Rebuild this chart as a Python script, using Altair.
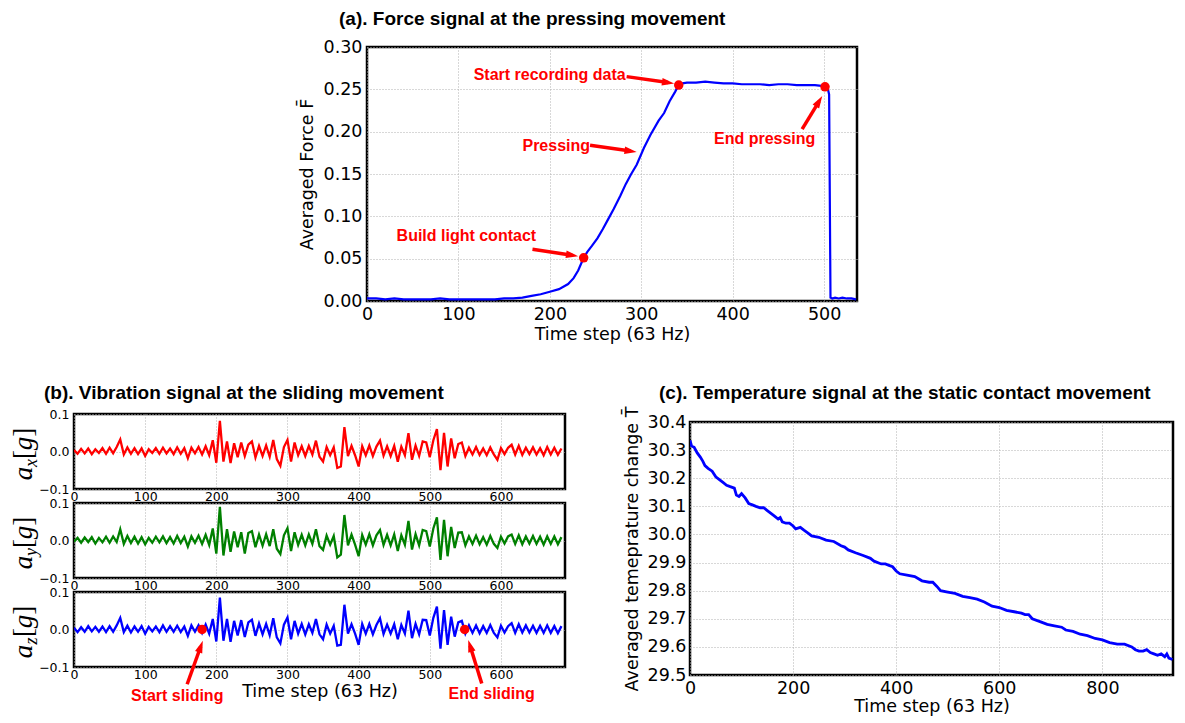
import math
import altair as alt
import pandas as pd

# ---------------- (a) force signal ----------------
force_t = [0, 10, 20, 30, 40, 50, 60, 70, 80, 90, 100, 110, 120, 130, 140, 150, 160, 170, 180, 190, 200, 210, 220,
           226, 231, 237, 241, 246, 252, 258, 264, 270, 277, 283, 289, 295,
           303, 310, 319, 325, 331, 337, 341, 345, 350,
           360, 370, 380, 390, 400, 410, 420, 430, 440, 450, 460, 470, 480, 490,
           497, 501, 504, 505.5, 507, 509, 512, 516, 520, 525, 530, 535]
force_v = [0.003, 0.003, 0.002, 0.003, 0.002, 0.002, 0.002, 0.002, 0.003, 0.002, 0.002, 0.002, 0.002, 0.002, 0.002, 0.003, 0.003, 0.004, 0.006, 0.008, 0.011, 0.014, 0.020,
           0.027, 0.036, 0.051, 0.058, 0.065, 0.074, 0.085, 0.097, 0.109, 0.124, 0.138, 0.150, 0.161,
           0.181, 0.196, 0.213, 0.222, 0.236, 0.247, 0.255, 0.257, 0.258,
           0.258, 0.259, 0.258, 0.257, 0.257, 0.256, 0.256, 0.256, 0.255, 0.256, 0.256, 0.255, 0.255, 0.255,
           0.254, 0.253, 0.251, 0.244, 0.004, 0.003, 0.004, 0.003, 0.004, 0.003, 0.003, 0.002]
force_dot_t = [237, 341, 501]
force_dot_v = [0.051, 0.255, 0.253]
force_lab_right = ["Build light contact", "Pressing", "Start recording data"]
force_lab_right_t = [185, 244, 283]
force_lab_right_v = [0.077, 0.183, 0.267]
force_lab_center = ["End pressing"]
force_lab_center_t = [435]
force_lab_center_v = [0.191]
force_arrow_t1 = [181, 244, 284, 476]
force_arrow_v1 = [0.061, 0.184, 0.265, 0.203]
force_arrow_t2 = [231, 295, 336, 498]
force_arrow_v2 = [0.053, 0.176, 0.257, 0.242]

# ---------------- (b) vibration signals (every 5 time steps) ----------------
vib_t = list(range(0, 690, 5))
vib_ax = [0.004, -0.006, 0.007, -0.005, 0.008, -0.007, 0.006, -0.004, 0.009, -0.006,
          0.010, -0.005, 0.012, 0.032, -0.008, 0.011, -0.006, 0.009, -0.007, 0.008,
          -0.012, 0.006, -0.004, 0.009, -0.006, 0.010, -0.005, 0.008, -0.007, 0.011,
          -0.006, 0.009, -0.018, 0.010, -0.005, 0.012, -0.008, 0.014, -0.010, 0.030,
          -0.030, 0.082, -0.027, 0.027, -0.031, 0.022, -0.015, 0.024, -0.012, 0.018,
          0.027, -0.016, 0.015, -0.012, 0.016, -0.014, 0.031, -0.020, -0.038, 0.012,
          0.031, -0.027, 0.024, -0.010, 0.014, -0.012, 0.015, -0.008, 0.029, -0.014,
          -0.027, 0.012, -0.010, 0.011, -0.044, -0.040, 0.065, -0.012, 0.015, -0.010,
          -0.040, 0.014, -0.010, 0.016, -0.012, 0.013, 0.029, -0.011, 0.014, -0.012,
          0.015, -0.027, 0.013, -0.010, 0.049, -0.022, 0.016, -0.012, 0.027, 0.024,
          -0.015, 0.030, 0.060, -0.050, 0.050, -0.040, 0.035, -0.018, 0.020, 0.024,
          -0.012, 0.010, -0.008, 0.012, -0.009, 0.008, -0.010, 0.011, -0.008, -0.022,
          0.009, -0.007, 0.010, 0.018, -0.008, 0.015, -0.009, 0.010, -0.007, 0.011,
          -0.008, 0.009, -0.010, 0.012, -0.008, 0.010, -0.009, 0.008]
vib_ay = [-0.003, 0.007, -0.006, 0.008, -0.004, 0.009, -0.008, 0.007, -0.005, 0.010,
          -0.006, 0.011, -0.004, 0.030, -0.009, 0.012, -0.007, 0.010, -0.008, 0.009,
          -0.010, 0.007, -0.006, 0.010, -0.005, 0.011, -0.007, 0.009, -0.008, 0.012,
          -0.007, 0.010, -0.016, 0.011, -0.006, 0.013, -0.009, 0.015, -0.012, 0.032,
          -0.035, 0.090, -0.040, 0.030, -0.030, 0.024, -0.018, 0.022, -0.035, 0.020,
          0.025, -0.018, 0.016, -0.014, 0.017, -0.015, 0.030, -0.022, -0.036, 0.014,
          0.033, -0.028, 0.022, -0.012, 0.015, -0.013, 0.016, -0.009, 0.030, -0.015,
          -0.025, 0.013, -0.011, 0.012, -0.045, -0.038, 0.068, -0.013, 0.016, -0.011,
          -0.042, 0.015, -0.011, 0.017, -0.013, 0.014, 0.028, -0.012, 0.015, -0.013,
          0.016, -0.028, 0.014, -0.011, 0.052, -0.024, 0.017, -0.013, 0.028, 0.025,
          -0.016, 0.032, 0.062, -0.052, 0.055, -0.042, 0.036, -0.020, 0.021, 0.022,
          -0.013, 0.011, -0.009, 0.013, -0.010, 0.009, -0.011, 0.012, -0.009, -0.020,
          0.010, -0.008, 0.011, 0.016, -0.009, 0.014, -0.010, 0.011, -0.008, 0.012,
          -0.009, 0.010, -0.011, 0.011, -0.009, 0.011, -0.010, 0.009]
vib_az = [0.005, -0.007, 0.006, -0.006, 0.009, -0.005, 0.007, -0.006, 0.008, -0.007,
          0.009, -0.006, 0.011, 0.031, -0.007, 0.010, -0.008, 0.008, -0.006, 0.009,
          -0.011, 0.007, -0.005, 0.008, -0.007, 0.011, -0.006, 0.009, -0.006, 0.010,
          -0.007, 0.008, -0.017, 0.011, -0.006, 0.011, -0.009, 0.013, -0.011, 0.028,
          -0.032, 0.085, -0.030, 0.028, -0.033, 0.023, -0.016, 0.025, -0.020, 0.019,
          0.026, -0.017, 0.016, -0.013, 0.015, -0.015, 0.030, -0.021, -0.037, 0.013,
          0.032, -0.026, 0.023, -0.011, 0.015, -0.013, 0.014, -0.009, 0.028, -0.013,
          -0.026, 0.013, -0.011, 0.010, -0.043, -0.041, 0.066, -0.011, 0.014, -0.011,
          -0.041, 0.015, -0.011, 0.015, -0.013, 0.012, 0.030, -0.012, 0.013, -0.011,
          0.014, -0.026, 0.012, -0.011, 0.050, -0.023, 0.015, -0.013, 0.026, 0.025,
          -0.016, 0.031, 0.061, -0.051, 0.052, -0.041, 0.034, -0.019, 0.019, 0.023,
          -0.011, 0.011, -0.009, 0.011, -0.010, 0.009, -0.009, 0.012, -0.009, -0.021,
          0.010, -0.008, 0.009, 0.017, -0.009, 0.014, -0.008, 0.011, -0.008, 0.010,
          -0.009, 0.010, -0.009, 0.011, -0.009, 0.009, -0.010, 0.009]
slide_dot_t = [180, 549]
slide_dot_v = [0.0, 0.0]
slide_lab = ["Start sliding", "End sliding"]
slide_lab_t = [145, 587]
slide_lab_v = [-0.176, -0.172]
slide_arrow_t1 = [159, 573]
slide_arrow_v1 = [-0.146, -0.144]
slide_arrow_t2 = [181, 554]
slide_arrow_v2 = [-0.030, -0.028]

# ---------------- (c) temperature signal ----------------
temp_t = [0, 3, 8, 14, 20, 25, 29, 35, 43, 50, 57, 64, 71, 78, 86, 90, 95, 100, 107, 114, 121, 128, 136, 143,
          150, 157, 164, 171, 175, 179, 186, 193, 200, 205, 214, 221, 229, 236, 250, 264, 279, 293, 300, 307,
          321, 336, 350, 357, 371, 379, 386, 393, 400, 407, 421, 436, 450, 464, 471, 479, 486, 500, 514, 529,
          543, 557, 571, 586, 600, 614, 629, 643, 650, 657, 664, 679, 693, 707, 721, 729, 743, 757, 771, 786,
          800, 814, 829, 843, 857, 864, 871, 879, 886, 893, 900, 907, 914, 921, 925, 929, 936]
temp_v = [30.335, 30.315, 30.31, 30.29, 30.275, 30.26, 30.245, 30.235, 30.225, 30.205, 30.195, 30.185, 30.175,
          30.17, 30.165, 30.14, 30.135, 30.145, 30.13, 30.11, 30.105, 30.10, 30.095, 30.095,
          30.085, 30.075, 30.065, 30.055, 30.06, 30.045, 30.04, 30.04, 30.03, 30.02, 30.025, 30.015, 30.005,
          29.995, 29.99, 29.98, 29.975, 29.96, 29.955, 29.945,
          29.935, 29.925, 29.915, 29.905, 29.895, 29.895, 29.89, 29.885, 29.87, 29.86, 29.855, 29.85, 29.835,
          29.83, 29.83, 29.815, 29.80, 29.795, 29.79, 29.78,
          29.775, 29.77, 29.76, 29.745, 29.74, 29.73, 29.725, 29.72, 29.715, 29.715, 29.70, 29.69, 29.68,
          29.675, 29.67, 29.66, 29.655, 29.645, 29.64, 29.63,
          29.625, 29.615, 29.61, 29.61, 29.60, 29.59, 29.585, 29.585, 29.59, 29.58, 29.575, 29.57, 29.575,
          29.565, 29.575, 29.56, 29.555]

# ---------------- styling ----------------
BLUE, RED, GREEN = "#0000ff", "#ff0000", "#008000"
TICK_FONT = "DejaVu Sans"
ANNO_FONT = "Liberation Sans"
MATH_FONT = "Liberation Serif"
HEAD_SIZE = 150
HEAD_R = math.sqrt(HEAD_SIZE) / 2
HEAD_PATH = "M0,-1L-0.62,1L0.62,1Z"
BIG = 17.5

A_W, A_H, A_X, A_Y = 490, 254, [0, 536], [0, 0.30]
B_W, B_H, B_X, B_Y = 491, 75, [0, 690], [-0.1, 0.1]
C_W, C_H, C_X, C_Y = 483, 253, [0, 937], [29.5, 30.4]


def arrow_frames(t1, v1, t2, v2, kx, ky):
    shafts, heads = [], []
    for a, b, c, d in zip(t1, v1, t2, v2):
        dxp = (c - a) * kx
        dyp = -(d - b) * ky
        L = math.hypot(dxp, dyp)
        ux, uy = dxp / L, dyp / L
        ht = c - ux * HEAD_R / kx
        hv = d + uy * HEAD_R / ky
        ang = math.degrees(math.atan2(dxp, -dyp)) % 360
        shafts.append({"t": a, "v": b, "t2": ht, "v2": hv})
        heads.append({"t": ht, "v": hv, "ang": ang})
    return pd.DataFrame(shafts), pd.DataFrame(heads)


def arrow_layers(shafts, heads, X, Y):
    s = alt.Chart(shafts).mark_rule(color=RED, strokeWidth=3.5).encode(x=X, y=Y, x2="t2:Q", y2="v2:Q")
    h = alt.Chart(heads).mark_point(shape=HEAD_PATH, filled=True, color=RED, opacity=1,
                                    size=HEAD_SIZE, strokeWidth=0).encode(
        x=X, y=Y, angle=alt.Angle("ang:Q", scale=None))
    return [s, h]


GRID = dict(grid=True, gridColor="#b0b0b0", gridDash=[1, 2], gridWidth=1)

# ---------------- panel (a) ----------------
XA = alt.X("t:Q", scale=alt.Scale(domain=A_X, nice=False, zero=False),
           axis=alt.Axis(values=[0, 100, 200, 300, 400, 500], format="d", title="Time step (63 Hz)",
                         labelFontSize=BIG, titleFontSize=BIG, labelPadding=4, titlePadding=3,
                         labelFlush=False, **GRID))
YA = alt.Y("v:Q", scale=alt.Scale(domain=A_Y, nice=False, zero=False),
           axis=alt.Axis(values=[0, 0.05, 0.10, 0.15, 0.20, 0.25, 0.30], format=".2f",
                         title="Averaged Force F\u0304", labelFontSize=BIG, titleFontSize=BIG,
                         labelPadding=5, titlePadding=7, labelFlush=False, **GRID))

df_force = pd.DataFrame({"t": force_t, "v": force_v})
a_line = alt.Chart(df_force).mark_line(color=BLUE, strokeWidth=2.2, clip=True).encode(x=XA, y=YA)
a_dots = alt.Chart(pd.DataFrame({"t": force_dot_t, "v": force_dot_v})).mark_point(
    filled=True, color=RED, size=90, opacity=1).encode(x=XA, y=YA)
a_lab_r = alt.Chart(pd.DataFrame({"t": force_lab_right_t, "v": force_lab_right_v, "s": force_lab_right})).mark_text(
    align="right", baseline="middle", font=ANNO_FONT, fontWeight="bold", fontSize=16, color=RED).encode(
    x=XA, y=YA, text="s:N")
a_lab_c = alt.Chart(pd.DataFrame({"t": force_lab_center_t, "v": force_lab_center_v, "s": force_lab_center})).mark_text(
    align="center", baseline="middle", font=ANNO_FONT, fontWeight="bold", fontSize=16, color=RED).encode(
    x=XA, y=YA, text="s:N")
sa, ha = arrow_frames(force_arrow_t1, force_arrow_v1, force_arrow_t2, force_arrow_v2,
                      A_W / (A_X[1] - A_X[0]), A_H / (A_Y[1] - A_Y[0]))
panel_a = alt.layer(a_line, *arrow_layers(sa, ha, XA, YA), a_dots, a_lab_r, a_lab_c).properties(
    width=A_W, height=A_H,
    title=alt.TitleParams("(a). Force signal at the pressing movement", dx=-28, offset=9))


# ---------------- panel (b) ----------------
def b_axes(x_title):
    common = dict(values=[0, 100, 200, 300, 400, 500, 600], format="d", labelFontSize=12.5,
                  labelPadding=1, labelFlush=False, **GRID)
    if x_title:
        xa = alt.Axis(title=x_title, titleFontSize=BIG, titlePadding=2, **common)
    else:
        xa = alt.Axis(title=None, **common)
    X = alt.X("t:Q", scale=alt.Scale(domain=B_X, nice=False, zero=False), axis=xa)
    Y = alt.Y("v:Q", scale=alt.Scale(domain=B_Y, nice=False, zero=False),
              axis=alt.Axis(values=[-0.1, 0.0, 0.1], format=".1f", labelFontSize=12.5, labelPadding=5,
                            labelFlush=False, title=None, **GRID))
    return X, Y


def ylabel_layers(sub):
    parts = [("a", -50, 59.5, 27, "italic"), (sub, -42, 49.0, 18, "italic"),
             ("[", -50, 40.6, 27, "normal"), ("g", -50, 29.4, 27, "italic"),
             ("]", -50, 18.2, 27, "normal")]
    out = []
    for txt, px, py, fs, st in parts:
        out.append(alt.Chart(pd.DataFrame({"s": [txt]})).mark_text(
            angle=270, align="center", baseline="middle", font=MATH_FONT, fontSize=fs,
            fontStyle=st, color="black").encode(text="s:N", x=alt.value(px), y=alt.value(py)))
    return out


def vib_panel(vals, color, sub, x_title=None, extra=None, title=None):
    X, Y = b_axes(x_title)
    line = alt.Chart(pd.DataFrame({"t": vib_t, "v": vals})).mark_line(
        color=color, strokeWidth=2.3, clip=True).encode(x=X, y=Y)
    layers = [line] + ylabel_layers(sub)
    if extra:
        layers += extra(X, Y)
    props = dict(width=B_W, height=B_H)
    if title:
        props["title"] = title
    return alt.layer(*layers).properties(**props)


def slide_extra(X, Y):
    sb, hb = arrow_frames(slide_arrow_t1, slide_arrow_v1, slide_arrow_t2, slide_arrow_v2,
                          B_W / (B_X[1] - B_X[0]), B_H / (B_Y[1] - B_Y[0]))
    dots = alt.Chart(pd.DataFrame({"t": slide_dot_t, "v": slide_dot_v})).mark_point(
        filled=True, color=RED, size=90, opacity=1).encode(x=X, y=Y)
    labs = alt.Chart(pd.DataFrame({"t": slide_lab_t, "v": slide_lab_v, "s": slide_lab})).mark_text(
        align="center", baseline="middle", font=ANNO_FONT, fontWeight="bold", fontSize=16, color=RED).encode(
        x=X, y=Y, text="s:N")
    return arrow_layers(sb, hb, X, Y) + [dots, labs]


sub1 = vib_panel(vib_ax, RED, "x",
                 title=alt.TitleParams("(b). Vibration signal at the sliding movement", dx=-30, offset=5))
sub2 = vib_panel(vib_ay, GREEN, "y")
sub3 = vib_panel(vib_az, BLUE, "z", x_title="Time step (63 Hz)", extra=slide_extra)
panel_b = alt.vconcat(sub1, sub2, sub3, spacing=14, bounds="flush")

# ---------------- panel (c) ----------------
XC = alt.X("t:Q", scale=alt.Scale(domain=C_X, nice=False, zero=False),
           axis=alt.Axis(values=[0, 200, 400, 600, 800], format="d", title="Time step (63 Hz)",
                         labelFontSize=BIG, titleFontSize=BIG, labelPadding=4, titlePadding=1,
                         labelFlush=False, **GRID))
YC = alt.Y("v:Q", scale=alt.Scale(domain=C_Y, nice=False, zero=False),
           axis=alt.Axis(values=[29.5, 29.6, 29.7, 29.8, 29.9, 30.0, 30.1, 30.2, 30.3, 30.4], format=".1f",
                         title="Averaged temeprature change T\u0304", labelFontSize=BIG, titleFontSize=BIG,
                         labelPadding=4, titlePadding=6, labelFlush=False, **GRID))
panel_c = alt.Chart(pd.DataFrame({"t": temp_t, "v": temp_v})).mark_line(
    color=BLUE, strokeWidth=2.8, clip=True).encode(x=XC, y=YC).properties(
    width=C_W, height=C_H,
    title=alt.TitleParams("(c). Temperature signal at the static contact movement", dx=-31, offset=3))

# ---------------- layout ----------------
spacer_a = alt.Chart(pd.DataFrame({"s": [0]})).mark_point(opacity=0).properties(
    width=222, height=10, view=alt.ViewBackground(strokeOpacity=0))
spacer_c = alt.Chart(pd.DataFrame({"s": [0]})).mark_point(opacity=0, size=1).properties(
    width=100, height=1, view=alt.ViewBackground(strokeOpacity=0))

row1 = alt.hconcat(spacer_a, panel_a, spacing=0)
col_c = alt.vconcat(spacer_c, panel_c, spacing=7, bounds="flush")
row2 = alt.hconcat(panel_b, col_c, spacing=54)

chart = alt.vconcat(row1, row2, spacing=37).properties(
    padding={"left": 0, "top": 0, "right": 0, "bottom": 0}
).configure_view(
    stroke="black", strokeWidth=2.5
).configure_axis(
    domain=False, ticks=False, labelFont=TICK_FONT, titleFont=TICK_FONT, labelColor="black",
    titleColor="black", titleFontWeight="normal", labelOverlap=False
).configure_title(
    font=ANNO_FONT, fontWeight="bold", fontSize=19, anchor="start", frame="group", color="black"
)

chart.save("out.html", embed_options={"renderer": "svg", "actions": False})
